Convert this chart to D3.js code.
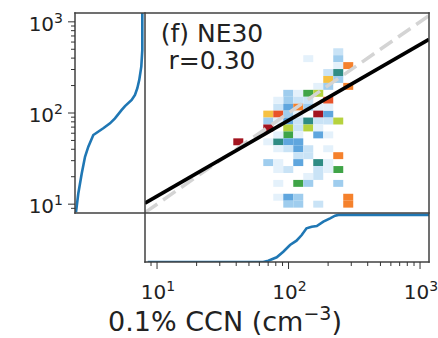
<!DOCTYPE html>
<html><head><meta charset="utf-8">
<script src="https://cdn.jsdelivr.net/npm/d3@7"></script>
<style>body{margin:0;background:#fff}svg{display:block}</style>
</head><body>
<svg id="c" width="438" height="338"></svg>
<script>
// ---------- data ----------
const panelTitle = "(f) NE30";
const corrText = "r=0.30";
const xLabelMain = "0.1% CCN (cm";
const xLabelSup = "\u22123";
const majorTicks = [10, 100, 1000];
const majorExps = ["1", "2", "3"];
const xDomain = [8.1, 1170];
const yDomain = [8, 1250];
const cdfDomain = [0, 1.04];

// 2-D histogram cells: log10 lower edges and colour level
const binWidth = 0.076;
const cellLogX = [2.340,2.112,2.340,2.340,2.416,2.264,2.340,2.264,2.340,2.188,2.264,2.416,
  1.960,2.036,2.112,2.188, 1.960,2.036,2.112,2.264, 1.884,1.960,2.036,2.112,2.188,
  1.808,1.884,1.960,2.036,2.188,2.264, 1.808,1.884,1.960,2.036,2.112,2.188,2.264,2.340,
  1.808,1.960,2.036,2.112,2.188, 1.960,2.036,2.188,2.264, 1.580,1.808,1.884,1.960,2.036,
  1.884,1.960,2.036,2.112, 2.036,2.112,2.340, 1.808,1.884,2.036,2.188,2.264,
  1.884,1.960,2.188,2.340, 2.112,2.188, 1.884,2.036,2.112,2.340,
  1.884,1.960,2.036,2.416, 1.960,2.036,2.188,2.416,
  1.884,2.264,1.884,2.264,2.264];
const cellLogY = [2.634,2.558,2.558,2.482,2.482,2.406,2.406,2.330,2.330,2.254,2.254,2.254,
  2.178,2.178,2.178,2.178, 2.102,2.102,2.102,2.102, 2.026,2.026,2.026,2.026,2.026,
  1.950,1.950,1.950,1.950,1.950,1.950, 1.874,1.874,1.874,1.874,1.874,1.874,1.874,1.874,
  1.798,1.798,1.798,1.798,1.798, 1.722,1.722,1.722,1.722, 1.646,1.646,1.646,1.646,1.646,
  1.570,1.570,1.570,1.570, 1.494,1.494,1.494, 1.418,1.418,1.418,1.418,1.418,
  1.342,1.342,1.342,1.342, 1.266,1.266, 1.190,1.190,1.190,1.190,
  1.038,1.038,1.038,1.038, 0.962,0.962,0.962,0.962,
  2.102,2.026,1.722,1.570,1.342];
const cellLevel = [2,1,3,1,9,2,5,8,3,1,3,9,
  3,1,6,7, 3,2,2,10, 2,4,9,3,1,
  8,10,3,1,11,4, 3,1,4,2,5,2,2,7,
  11,7,2,7,1, 6,1,4,1, 11,1,5,4,4,
  1,2,4,2, 2,2,9, 3,1,4,5,1,
  1,2,2,6, 1,2, 1,6,3,3,
  1,4,3,9, 3,3,2,9,
  1,1,1,1,1];
const levelColors = ["#ffffff","#e4f1fb","#c9e3f6","#9fcdee","#5fa6de","#2f8c84",
  "#3fa447","#b6d23e","#f6c142","#f5812c","#e8542a","#a3141f"];

// marginal cumulative distributions
const leftCdfValue = [8.2,13.1,21.7,33.1,42.7,57.3,60.8,68,77,87.5,108,119,139,158,187,231,323,492,1250];
const leftCdfFrac  = [0.015,0.049,0.10,0.149,0.198,0.272,0.322,0.42,0.52,0.594,0.694,0.743,0.842,0.891,0.926,0.955,0.985,1.0,1.0];
const bottomCdfValue = [8.5,64.3,70.2,81.3,91.2,102.6,115,126,137,150,164,184,207,226,240,1250];
const bottomCdfFrac  = [0,0,0.027,0.10,0.219,0.361,0.452,0.573,0.715,0.749,0.764,0.856,0.927,0.983,1.0,1.0];

// fit line (log10 y = a + b log10 x)
const fitSlope = 0.832;
const fitIntercept = 0.255;

// ---------- layout ----------
const main = {x0:145, x1:429, y0:13, y1:213};
const left = {x0:75, x1:145};
const bottom = {y0:213, y1:262};

const svg = d3.select("#c");
const x = d3.scaleLog().domain(xDomain).range([main.x0, main.x1]);
const y = d3.scaleLog().domain(yDomain).range([main.y1, main.y0]);
const fx = d3.scaleLinear().domain(cdfDomain).range([left.x0, left.x1]);
const fy = d3.scaleLinear().domain(cdfDomain).range([bottom.y1, bottom.y0]);

const defs = svg.append("defs");
defs.append("clipPath").attr("id","cm").append("rect")
  .attr("x",main.x0).attr("y",main.y0).attr("width",main.x1-main.x0).attr("height",main.y1-main.y0);
defs.append("clipPath").attr("id","cl").append("rect")
  .attr("x",left.x0).attr("y",main.y0).attr("width",left.x1-left.x0).attr("height",main.y1-main.y0);
defs.append("clipPath").attr("id","cb").append("rect")
  .attr("x",main.x0).attr("y",bottom.y0).attr("width",main.x1-main.x0).attr("height",bottom.y1-bottom.y0);

// cells
const gm = svg.append("g").attr("clip-path","url(#cm)");
const cells = cellLogX.map((lx,i)=>({lx, ly:cellLogY[i], lv:cellLevel[i]}));
gm.selectAll("rect.cell").data(cells).join("rect").attr("class","cell")
  .attr("x", d=>x(Math.pow(10,d.lx)))
  .attr("width", d=>x(Math.pow(10,d.lx+binWidth))-x(Math.pow(10,d.lx)))
  .attr("y", d=>y(Math.pow(10,d.ly+binWidth)))
  .attr("height", d=>y(Math.pow(10,d.ly))-y(Math.pow(10,d.ly+binWidth)))
  .attr("fill", d=>levelColors[d.lv]);

// 1:1 line
gm.append("line")
  .attr("x1",x(xDomain[0])).attr("y1",y(xDomain[0]))
  .attr("x2",x(xDomain[1])).attr("y2",y(xDomain[1]))
  .attr("stroke","#d4d4d4").attr("stroke-width",3.5).attr("stroke-dasharray","15,7");

// fit line
const fit = v => Math.pow(10, fitIntercept + fitSlope*Math.log10(v));
gm.append("line")
  .attr("x1",x(xDomain[0])).attr("y1",y(fit(xDomain[0])))
  .attr("x2",x(xDomain[1])).attr("y2",y(fit(xDomain[1])))
  .attr("stroke","#000").attr("stroke-width",3.6);

// texts
const tx = svg.append("text").attr("x",212).attr("font-family","DejaVu Sans")
  .attr("font-size",25).attr("fill","#222").attr("text-anchor","middle");
tx.append("tspan").attr("x",212).attr("y",42).text(panelTitle);
tx.append("tspan").attr("x",212).attr("y",69).text(corrText);

// left CDF
svg.append("path").attr("clip-path","url(#cl)")
  .datum(leftCdfValue.map((v,i)=>[fx(leftCdfFrac[i]), y(v)]))
  .attr("d", d3.line()).attr("fill","none").attr("stroke","#1f77b4").attr("stroke-width",2.6);

// bottom CDF
svg.append("path").attr("clip-path","url(#cb)")
  .datum(bottomCdfValue.map((v,i)=>[x(v), fy(bottomCdfFrac[i])]))
  .attr("d", d3.line()).attr("fill","none").attr("stroke","#1f77b4").attr("stroke-width",2.6);

// spines
const spine = {stroke:"#404040", sw:1.5};
function ln(x1,y1,x2,y2){svg.append("line").attr("x1",x1).attr("y1",y1).attr("x2",x2).attr("y2",y2)
  .attr("stroke",spine.stroke).attr("stroke-width",spine.sw).attr("stroke-linecap","square");}
ln(left.x0, main.y0, main.x1, main.y0);
ln(left.x0, main.y1, main.x1, main.y1);
ln(left.x0, main.y0, left.x0, main.y1);
ln(main.x0, main.y0, main.x0, bottom.y1);
ln(main.x1, main.y0, main.x1, bottom.y1);
ln(main.x0, bottom.y1, main.x1, bottom.y1);

// ticks
const minorY = y.ticks().filter(t=>!majorTicks.includes(t) && t>yDomain[0] && t<yDomain[1]);
const minorX = x.ticks().filter(t=>!majorTicks.includes(t) && t>xDomain[0] && t<xDomain[1]);
const tk = svg.append("g").attr("stroke","#333").attr("stroke-width",1);
minorY.forEach(t=>tk.append("line").attr("x1",left.x0-4).attr("x2",left.x0).attr("y1",y(t)).attr("y2",y(t)));
majorTicks.forEach(t=>tk.append("line").attr("x1",left.x0-7).attr("x2",left.x0).attr("y1",y(t)).attr("y2",y(t)));
minorX.forEach(t=>tk.append("line").attr("y1",bottom.y1).attr("y2",bottom.y1+4).attr("x1",x(t)).attr("x2",x(t)));
majorTicks.forEach(t=>tk.append("line").attr("y1",bottom.y1).attr("y2",bottom.y1+7).attr("x1",x(t)).attr("x2",x(t)));

// tick labels
majorTicks.forEach((t,i)=>{
  const a = svg.append("text").attr("x",left.x0-12).attr("y",y(t)+9)
    .attr("text-anchor","end").attr("font-family","DejaVu Sans").attr("font-size",20).attr("fill","#222");
  a.append("tspan").text("10");
  a.append("tspan").attr("font-size",14).attr("dy",-8).text(majorExps[i]);
  const b = svg.append("text").attr("x",x(t)+1).attr("y",299)
    .attr("text-anchor","middle").attr("font-family","DejaVu Sans").attr("font-size",20).attr("fill","#222");
  b.append("tspan").text("10");
  b.append("tspan").attr("font-size",14).attr("dy",-8).text(majorExps[i]);
});

// axis label
const xl = svg.append("text").attr("x",225).attr("y",331).attr("text-anchor","middle")
  .attr("font-family","DejaVu Sans").attr("font-size",27).attr("fill","#222");
xl.append("tspan").text(xLabelMain);
xl.append("tspan").attr("font-size",19).attr("dy",-11).text(xLabelSup);
xl.append("tspan").attr("dy",11).text(")");
</script>
</body></html>
